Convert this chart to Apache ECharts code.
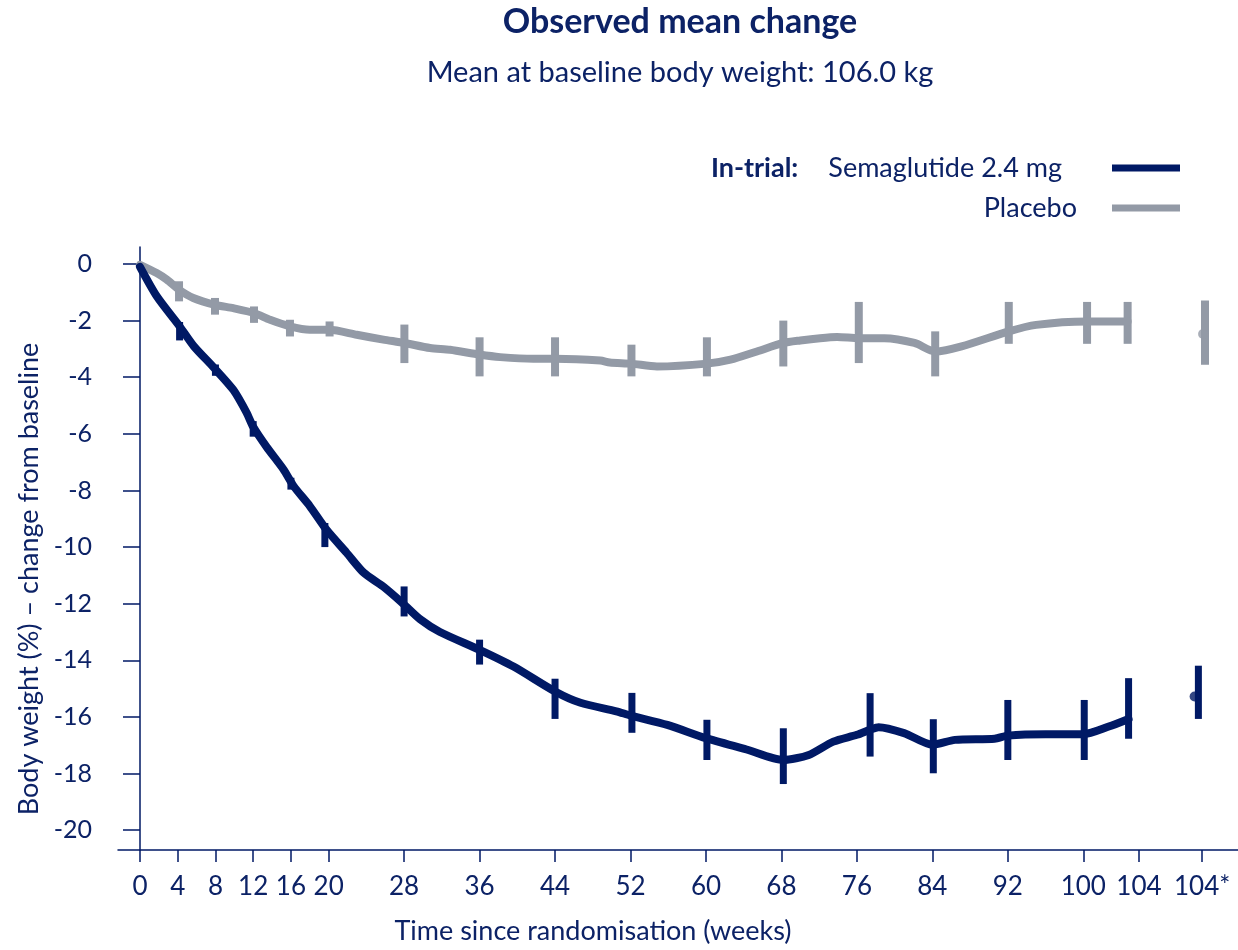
<!DOCTYPE html>
<html><head><meta charset="utf-8">
<script src="https://cdn.jsdelivr.net/npm/echarts@6/dist/echarts.min.js"></script>
<style>html,body{margin:0;padding:0;background:#fff}#c{width:1238px;height:950px}</style>
</head><body><div id="c"></div>
<script>
// ---- data (week, % change from baseline) ----
const semaLine = [[0,-0.1],[1.8,-1.15],[4.2,-2.2],[5.7,-2.9],[7.8,-3.65],[9.9,-4.45],[11.3,-5.25],[12.0,-5.75],[13.4,-6.45],[15.2,-7.25],[16.3,-7.85],[18.0,-8.55],[19.8,-9.4],[21.9,-10.2],[23.7,-10.9],[25.8,-11.4],[27.9,-12.0],[29.7,-12.55],[31.8,-13.0],[36.0,-13.63],[39.6,-14.22],[44.0,-15.1],[46.7,-15.5],[50.5,-15.8],[52.0,-15.95],[55.9,-16.28],[60.0,-16.75],[64.3,-17.15],[68.2,-17.52],[70.9,-17.34],[73.5,-16.87],[76.0,-16.63],[77.4,-16.45],[78.3,-16.36],[81.0,-16.57],[84.0,-16.98],[86.4,-16.81],[90.6,-16.77],[92.0,-16.66],[96.0,-16.61],[100.0,-16.61],[102.7,-16.34],[104.8,-16.07]];
const semaErr = [[4.2,-2.05,-2.7],[8.0,-3.55,-3.95],[12.0,-5.55,-6.1],[16.0,-7.55,-7.97],[19.6,-9.15,-10.0],[28.0,-11.39,-12.45],[36.0,-13.27,-14.15],[44.0,-14.65,-16.07],[52.15,-15.15,-16.56],[60.1,-16.1,-17.52],[68.2,-16.4,-18.37],[77.4,-15.16,-17.4],[84.1,-16.08,-17.99],[92.0,-15.4,-17.52],[100.1,-15.4,-17.52],[104.8,-14.63,-16.77],[112.2,-14.19,-16.07]];
const semaFinal = [[111.8,-15.28]];
const placLine = [[0,-0.03],[1.77,-0.32],[2.83,-0.55],[4.14,-0.91],[5.65,-1.2],[7.95,-1.44],[9.89,-1.56],[12.09,-1.73],[13.79,-1.97],[15.9,-2.2],[18.0,-2.32],[20.1,-2.32],[22.98,-2.5],[25.8,-2.67],[28.03,-2.79],[30.75,-2.97],[32.87,-3.03],[35.98,-3.2],[38.18,-3.29],[41.7,-3.35],[44.0,-3.35],[48.8,-3.41],[49.8,-3.48],[52.1,-3.52],[54.8,-3.62],[60.1,-3.52],[62.6,-3.38],[65.4,-3.09],[68.2,-2.79],[70.0,-2.7],[72.1,-2.62],[73.9,-2.58],[76.2,-2.62],[78.9,-2.62],[82.1,-2.79],[84.3,-3.09],[87.1,-2.91],[92.1,-2.38],[95.0,-2.15],[100.4,-2.03],[104.7,-2.03]];
const placErr = [[4.14,-0.61,-1.32],[7.95,-1.2,-1.79],[12.09,-1.5,-2.08],[15.9,-1.97,-2.56],[20.1,-2.03,-2.56],[28.03,-2.14,-3.5],[36.0,-2.59,-3.97],[44.0,-2.59,-3.97],[52.1,-2.85,-3.97],[60.1,-2.59,-3.97],[68.2,-2.0,-3.62],[76.2,-1.34,-3.5],[84.3,-2.38,-3.97],[92.1,-1.34,-2.82],[100.4,-1.34,-2.82],[104.7,-1.34,-2.82],[112.9,-1.29,-3.56]];
const placFinal = [[112.7,-2.47]];
const xTickPos = [0,4,8,12,16,20,28,36,44,52,60,68,76,84,92,100,105.9,112.6];
const xTickLabels = ['0','4','8','12','16','20','28','36','44','52','60','68','76','84','92','100','104','104*'];
const yTicks = [0,-2,-4,-6,-8,-10,-12,-14,-16,-18,-20];
const seriesNames = ['Semaglutide 2.4 mg','Placebo'];

const NAVY = '#001965', GREY = '#939aa6', TXT = '#0c2266';
const FONT = 'Lato, "Open Sans", sans-serif';

function errRender(color, w) {
  return function (params, api) {
    const x = api.value(0);
    const p1 = api.coord([x, api.value(1)]);
    const p2 = api.coord([x, api.value(2)]);
    return { type: 'line', shape: { x1: p1[0], y1: p1[1], x2: p2[0], y2: p2[1] },
             style: { stroke: color, lineWidth: w } };
  };
}

const chart = echarts.init(document.getElementById('c'), null, { renderer: 'canvas' });
chart.setOption({
  backgroundColor: '#fff',
  animation: false,
  textStyle: { fontFamily: FONT, color: TXT },
  title: {
    text: 'Observed mean change',
    subtext: 'Mean at baseline body weight: 106.0 kg',
    left: 675, top: 0, textAlign: 'center', itemGap: 19,
    textStyle: { fontFamily: FONT, fontSize: 34, fontWeight: 'bold', color: TXT },
    subtextStyle: { fontFamily: FONT, fontSize: 29, color: TXT }
  },
  legend: {
    data: seriesNames,
    orient: 'vertical', align: 'right',
    right: 53, top: 147, itemGap: 8,
    itemWidth: 68, itemHeight: 7, icon: 'rect',
    formatter: function (n) {
      return n === seriesNames[0] ? '{h|In-trial:}{a|' + n + '}' : '{p|' + n + '}';
    },
    textStyle: {
      fontFamily: FONT, fontSize: 27, color: TXT, lineHeight: 32,
      rich: {
        h: { fontFamily: FONT, fontSize: 27, fontWeight: 'bold', color: TXT, lineHeight: 32, padding: [0, 30, 0, 0] },
        a: { fontFamily: FONT, fontSize: 27, color: TXT, lineHeight: 32, padding: [0, 45, 0, 0] },
        p: { fontFamily: FONT, fontSize: 27, color: TXT, lineHeight: 32, padding: [0, 30, 0, 0] }
      }
    }
  },
  grid: { left: 118, right: 0, top: 247, bottom: 100, containLabel: false },
  xAxis: {
    type: 'value', min: -2.33, max: 116.4,
    axisLine: { show: true, onZero: false, lineStyle: { color: NAVY, width: 1.5 } },
    axisTick: { show: true, length: 12, customValues: xTickPos, lineStyle: { color: NAVY, width: 1.5 } },
    axisLabel: { customValues: xTickPos, margin: 24, fontSize: 26, color: TXT, fontFamily: FONT,
      formatter: function (v) { const i = xTickPos.indexOf(v); return i >= 0 ? xTickLabels[i] : ''; } },
    splitLine: { show: false }
  },
  yAxis: {
    type: 'value', min: -20.7, max: 0.6,
    axisLine: { show: true, lineStyle: { color: NAVY, width: 1.5 } },
    axisTick: { show: true, length: 17, customValues: yTicks, lineStyle: { color: NAVY, width: 1.5 } },
    axisLabel: { customValues: yTicks, margin: 26, fontSize: 25, color: TXT, fontFamily: FONT },
    splitLine: { show: false }
  },
  graphic: [
    { type: 'text', x: 29, y: 579, rotation: Math.PI / 2,
      style: { text: 'Body weight (%) – change from baseline', font: '27px ' + FONT, fill: TXT, align: 'center', verticalAlign: 'middle' } },
    { type: 'text', x: 593, y: 931,
      style: { text: 'Time since randomisation (weeks)', font: '27px ' + FONT, fill: TXT, align: 'center', verticalAlign: 'middle' } }
  ],
  series: [
    { name: seriesNames[1], type: 'line', data: placLine, showSymbol: false, smooth: 0.25, z: 2,
      lineStyle: { color: GREY, width: 8, join: 'round', cap: 'round' }, itemStyle: { color: GREY } },
    { type: 'custom', name: 'placErr', data: placErr, renderItem: errRender(GREY, 8), encode: { x: 0, y: [1, 2] }, z: 2 },
    { type: 'scatter', name: 'placFinal', data: placFinal, symbolSize: 10, itemStyle: { color: GREY }, z: 3 },
    { name: seriesNames[0], type: 'line', data: semaLine, showSymbol: false, smooth: 0.25, z: 4,
      lineStyle: { color: NAVY, width: 8, join: 'round', cap: 'round' }, itemStyle: { color: NAVY } },
    { type: 'custom', name: 'semaErr', data: semaErr, renderItem: errRender(NAVY, 7), encode: { x: 0, y: [1, 2] }, z: 4 },
    { type: 'scatter', name: 'semaFinal', data: semaFinal, symbolSize: 10, itemStyle: { color: NAVY }, z: 5 }
  ]
});
</script></body></html>
